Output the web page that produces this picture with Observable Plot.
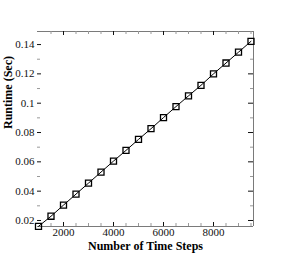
<!DOCTYPE html>
<html>
<head>
<meta charset="utf-8">
<script src="https://cdn.jsdelivr.net/npm/d3@7"></script>
<script src="https://cdn.jsdelivr.net/npm/@observablehq/plot@0.6"></script>
<style>
  html, body { margin: 0; padding: 0; background: #fff; }
  #chart svg { display: block; }
</style>
</head>
<body>
<div id="chart"></div>
<script>
const timeSteps = [1000,1500,2000,2500,3000,3500,4000,4500,5000,5500,6000,6500,7000,7500,8000,8500,9000,9500];
const runtime = [0.0160,0.0229,0.0305,0.0380,0.0455,0.0530,0.0605,0.0678,0.0753,0.0826,0.0902,0.0977,0.1050,0.1122,0.1200,0.1274,0.1348,0.1422];
const xTicks = [2000,4000,6000,8000];
const xTickLabels = ["2000","4000","6000","8000"];
const xMinorTicks = [1500,2500,3000,3500,4500,5000,5500,6500,7000,7500,8500,9000,9500];
const yTicks = [0.02,0.04,0.06,0.08,0.1,0.12,0.14];
const yTickLabels = ["0.02","0.04","0.06","0.08","0.1","0.12","0.14"];
const yMinorTicks = [0.03,0.05,0.07,0.09,0.11,0.13];
const xDomain = [960, 9600];
const yDomain = [0.0159, 0.1489];
const xLabel = "Number of Time Steps";
const yLabel = "Runtime (Sec)";

const data = timeSteps.map((t, i) => ({t, r: runtime[i]}));
const W = 287, H = 255;
const mL = 37, mR = 34, mT = 31, mB = 29;
const iw = W - mL - mR, ih = H - mT - mB;
const frameColor = "#7a7a7a";

const chart = Plot.plot({
  width: W, height: H,
  marginLeft: mL, marginRight: mR, marginTop: mT, marginBottom: mB,
  style: {fontFamily: "'Liberation Serif', 'Times New Roman', serif", fontSize: "11px", color: "#111", background: "#fff"},
  x: {domain: xDomain, axis: null},
  y: {domain: yDomain, axis: null},
  marks: [
    // frame: top, bottom, right
    Plot.ruleY([yDomain[1]], {stroke: frameColor, strokeWidth: 1}),
    Plot.ruleY([yDomain[0]], {stroke: frameColor, strokeWidth: 1}),
    Plot.ruleX([xDomain[1]], {stroke: frameColor, strokeWidth: 1}),
    // x ticks bottom & top (inward)
    Plot.tickX(xTicks, {x: d => d, insetTop: ih - 4, stroke: "#111", strokeWidth: 1}),
    Plot.tickX(xTicks, {x: d => d, insetBottom: ih - 4, stroke: "#111", strokeWidth: 1}),
    Plot.tickX(xMinorTicks, {x: d => d, insetTop: ih - 3, stroke: "#999", strokeWidth: 1}),
    Plot.tickX(xMinorTicks, {x: d => d, insetBottom: ih - 3, stroke: "#999", strokeWidth: 1}),
    // y ticks left & right (inward)
    Plot.tickY(yTicks, {y: d => d, insetRight: iw - 4, stroke: "#111", strokeWidth: 1}),
    Plot.tickY(yTicks, {y: d => d, insetLeft: iw - 5, stroke: "#111", strokeWidth: 1}),
    Plot.tickY(yMinorTicks, {y: d => d, insetRight: iw - 3, stroke: "#999", strokeWidth: 1}),
    Plot.tickY(yMinorTicks, {y: d => d, insetLeft: iw - 3, stroke: "#999", strokeWidth: 1}),
    // tick labels
    Plot.axisX(xTicks, {anchor: "bottom", tickSize: 0, tickPadding: 2, label: null,
      tickFormat: (d, i) => xTickLabels[i], fontSize: 11, fill: "#111"}),
    Plot.axisY(yTicks, {anchor: "left", tickSize: 0, tickPadding: 3, label: null,
      tickFormat: (d, i) => yTickLabels[i], fontSize: 11, fill: "#111"}),
    // axis titles
    Plot.text([xLabel], {frameAnchor: "bottom", dy: 20, lineAnchor: "middle", text: d => d,
      fontWeight: "bold", fontSize: 12, fill: "#000"}),
    Plot.text([yLabel], {frameAnchor: "left", dx: -29, rotate: -90, text: d => d,
      fontWeight: "bold", fontSize: 12, fill: "#000"}),
    // data
    Plot.line(data, {x: "t", y: "r", stroke: "#000", strokeWidth: 1}),
    Plot.dot(data, {x: "t", y: "r", symbol: "square", r: 3.4, stroke: "#000", strokeWidth: 1.3, fill: "none"})
  ]
});
document.getElementById("chart").appendChild(chart);
</script>
</body>
</html>
